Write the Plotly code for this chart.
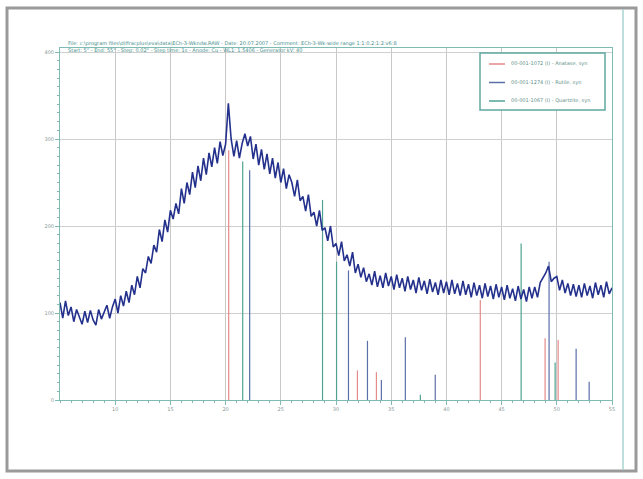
import plotly.graph_objects as go

# ---- data ----
two_theta_start = 5.0
two_theta_step = 0.25
counts = [
    112, 94, 114, 97,
    107, 90, 104, 95,
    87, 102, 89, 103,
    92, 86, 104, 93,
    101, 109, 94, 107,
    116, 100, 120, 108,
    125, 112, 132, 121,
    142, 129, 151, 146,
    165, 157, 178, 170,
    196, 182, 207, 193,
    218, 208, 226, 214,
    243, 226, 250, 236,
    262, 244, 269, 252,
    278, 259, 284, 268,
    290, 272, 297, 281,
    294, 341, 300, 280,
    298, 278, 295, 306,
    292, 303, 277, 294,
    270, 288, 265, 283,
    260, 278, 255, 273,
    250, 266, 243, 259,
    250, 234, 253, 229,
    234, 217, 236, 211,
    216, 200, 218, 195,
    198, 183, 200, 176,
    180, 166, 182, 160,
    167, 154, 170, 146,
    156, 141, 152, 136,
    145, 132, 148, 130,
    143, 129, 146, 131,
    142, 127, 144, 129,
    140, 125, 142, 127,
    138, 123, 141, 126,
    137, 122, 139, 124,
    135, 121, 138, 123,
    136, 121, 138, 122,
    134, 120, 137, 121,
    133, 118, 135, 120,
    132, 117, 134, 119,
    131, 116, 133, 118,
    130, 115, 132, 117,
    128, 114, 131, 116,
    127, 113, 130, 117,
    130, 118, 135, 140,
    146, 154, 136, 140,
    142, 126, 138, 123,
    134, 120, 133, 119,
    132, 118, 134, 120,
    131, 117, 135, 121,
    132, 118, 136, 122,
    129,
]
two_theta = [two_theta_start + i * two_theta_step for i in range(len(counts))]

ref_red_pos = [20.28, 31.94, 33.66, 43.07, 48.94, 50.12]
ref_red_int = [287, 34, 32, 115, 71, 69]
ref_blue_pos = [22.18, 31.13, 32.85, 34.11, 36.28, 38.99, 49.30, 51.75, 52.93]
ref_blue_int = [264, 149, 68, 23, 72, 29, 159, 59, 21]
ref_green_pos = [21.55, 28.78, 30.05, 37.64, 46.77, 49.85]
ref_green_int = [274, 230, 159, 6, 180, 43]

legend_names = ["00-001-1072 (I) - Anatase, syn",
                "00-001-1274 (I) - Rutile, syn",
                "00-001-1067 (I) - Quartzite, syn"]
ref_colors = ["#e58a8a", "#5b6fa8", "#4fa390"]
x_ticks = [10, 15, 20, 25, 30, 35, 40, 45, 50, 55]
y_ticks = [0, 100, 200, 300, 400]
title_line1 = ("File: c:\\program files\\diffracplus\\eva\\data\\ECh-3-Wkndw.RAW - Date: 20.07.2007"
               " - Comment: ECh-3-Wk-wide range 1:1:0.2:1:2:v6:8")
title_line2 = ("Start: 5° - End: 55° - Step: 0.02° - Step time: 1s - Anode: Cu - "
               "WL1: 1.5406 - Generator kV: 40")


def sticks(pos, inten):
    xs, ys = [], []
    for p, v in zip(pos, inten):
        xs += [p, p, None]
        ys += [0, v, None]
    return xs, ys


fig = go.Figure()

for pos, inten, col, name in [
    (ref_red_pos, ref_red_int, ref_colors[0], legend_names[0]),
    (ref_blue_pos, ref_blue_int, ref_colors[1], legend_names[1]),
    (ref_green_pos, ref_green_int, ref_colors[2], legend_names[2]),
]:
    xs, ys = sticks(pos, inten)
    fig.add_trace(go.Scatter(x=xs, y=ys, mode="lines", name=name,
                             line=dict(color=col, width=1.2),
                             showlegend=False, hoverinfo="skip"))

fig.add_trace(go.Scatter(x=two_theta, y=counts, mode="lines",
                         line=dict(color="#24318c", width=1.6),
                         showlegend=False, hoverinfo="skip"))

W, H = 643, 479
L, R, T, B = 60, 31, 48, 79
pw, ph = W - L - R, H - T - B


def px(x):
    return (x - L) / pw


def py(y):
    return (H - B - y) / ph


shapes = [
    dict(type="rect", xref="paper", yref="paper",
         x0=px(7), x1=px(636), y0=py(471), y1=py(8),
         line=dict(color="#9a9a9a", width=3), layer="below"),
    dict(type="line", xref="paper", yref="paper",
         x0=px(623), x1=px(623), y0=py(470), y1=py(9),
         line=dict(color="#a8d4cf", width=1.5)),
    dict(type="rect", xref="paper", yref="paper",
         x0=px(480), x1=px(605), y0=py(110), y1=py(53),
         line=dict(color="#5fa8a0", width=1.5), fillcolor="white"),
]

annotations = [
    dict(xref="paper", yref="paper", x=px(66), y=py(43), text=title_line1,
         showarrow=False, xanchor="left", yanchor="middle",
         font=dict(size=5, color="#3f8f8c")),
    dict(xref="paper", yref="paper", x=px(66), y=py(50), text=title_line2,
         showarrow=False, xanchor="left", yanchor="middle",
         font=dict(size=5, color="#3f8f8c")),
]

for i, (name, col) in enumerate(zip(legend_names, ref_colors)):
    yy = 64 + i * 18.5
    shapes.append(dict(type="line", xref="paper", yref="paper",
                       x0=px(489), x1=px(505), y0=py(yy), y1=py(yy),
                       line=dict(color=col, width=1.5)))
    annotations.append(dict(xref="paper", yref="paper", x=px(509), y=py(yy),
                            text=name, showarrow=False, xanchor="left",
                            yanchor="middle",
                            font=dict(size=5, color="#5f8f8a")))

fig.update_layout(
    width=W, height=H,
    margin=dict(l=L, r=R, t=T, b=B),
    paper_bgcolor="white", plot_bgcolor="white",
    shapes=shapes, annotations=annotations,
    font=dict(family="DejaVu Sans", size=5, color="#8a9896"),
    showlegend=False,
    xaxis=dict(range=[5, 55], tickvals=x_ticks, showgrid=True,
               gridcolor="#c8c8c8", gridwidth=1,
               showline=True, linecolor="#7fbab3", linewidth=1, mirror=True,
               ticks="outside", ticklen=4, tickcolor="#7fbab3",
               minor=dict(dtick=1, ticks="outside", ticklen=2, tickcolor="#7fbab3"),
               zeroline=False, tickfont=dict(size=5, color="#8a9896")),
    yaxis=dict(range=[0, 404.6], tickvals=y_ticks, showgrid=True,
               gridcolor="#cfcfcf", gridwidth=1,
               showline=True, linecolor="#7fbab3", linewidth=1, mirror=True,
               ticks="outside", ticklen=4, tickcolor="#7fbab3",
               minor=dict(dtick=10, ticks="outside", ticklen=2, tickcolor="#7fbab3"),
               zeroline=False, tickfont=dict(size=5, color="#8a9896")),
)

fig.write_html("out.html")
